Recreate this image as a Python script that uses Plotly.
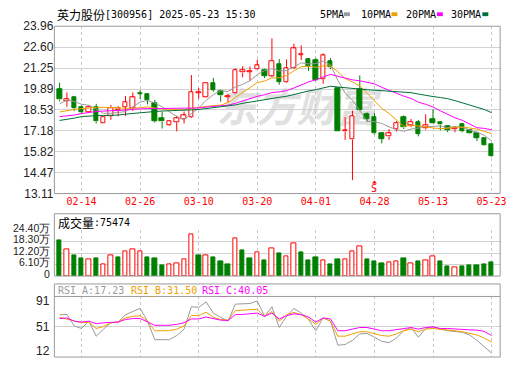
import plotly.graph_objects as go

# ---------------- data ----------------
dates = ["2025-02-11", "2025-02-12", "2025-02-13", "2025-02-14", "2025-02-17", "2025-02-18",
         "2025-02-19", "2025-02-20", "2025-02-21", "2025-02-24", "2025-02-25", "2025-02-26",
         "2025-02-27", "2025-02-28", "2025-03-03", "2025-03-04", "2025-03-05", "2025-03-06",
         "2025-03-07", "2025-03-10", "2025-03-11", "2025-03-12", "2025-03-13", "2025-03-14",
         "2025-03-17", "2025-03-18", "2025-03-19", "2025-03-20", "2025-03-21", "2025-03-24",
         "2025-03-25", "2025-03-26", "2025-03-27", "2025-03-28", "2025-03-31", "2025-04-01",
         "2025-04-02", "2025-04-03", "2025-04-07", "2025-04-08", "2025-04-09", "2025-04-10",
         "2025-04-11", "2025-04-28", "2025-04-29", "2025-04-30", "2025-05-06", "2025-05-07",
         "2025-05-08", "2025-05-09", "2025-05-12", "2025-05-13", "2025-05-14", "2025-05-15",
         "2025-05-16", "2025-05-19", "2025-05-20", "2025-05-21", "2025-05-22", "2025-05-23"]

opens = [19.86, 19.12, 19.36, 18.72, 18.41, 18.68, 17.67, 18.12, 18.50, 18.72,
         18.62, 19.60, 19.55, 18.99, 17.99, 17.54, 17.73, 17.96, 18.06, 19.62,
         19.34, 20.27, 19.76, 19.36, 19.59, 20.95, 21.00, 21.14, 21.12, 20.75,
         21.52, 20.34, 21.25, 22.10, 21.79, 21.77, 20.52, 21.72, 19.96, 17.13,
         16.61, 19.90, 18.25, 18.04, 17.00, 16.80, 17.29, 18.06, 17.54, 17.75,
         17.33, 17.94, 17.75, 17.48, 17.27, 17.62, 17.23, 17.02, 16.67, 16.32]
highs = [20.30, 19.67, 19.38, 18.83, 18.83, 18.93, 18.04, 18.85, 18.78, 19.43,
         19.67, 19.82, 19.61, 19.18, 18.41, 17.83, 18.16, 18.43, 20.79, 19.96,
         20.29, 20.61, 19.86, 19.55, 21.23, 21.37, 21.35, 21.79, 21.21, 23.17,
         21.83, 21.81, 22.82, 22.72, 21.89, 21.89, 22.20, 21.89, 19.96, 18.06,
         18.49, 20.77, 18.37, 18.33, 17.06, 17.29, 17.81, 18.18, 17.94, 17.89,
         18.25, 18.58, 17.77, 17.52, 17.48, 17.67, 17.27, 17.13, 16.71, 16.34]
lows = [19.09, 18.74, 18.47, 18.27, 18.33, 17.65, 17.67, 17.89, 18.12, 18.14,
        18.47, 19.24, 18.89, 17.71, 17.33, 17.50, 17.15, 17.65, 18.00, 19.26,
        19.32, 19.72, 19.07, 18.99, 19.55, 20.65, 20.40, 21.12, 20.59, 20.65,
        20.17, 20.30, 21.21, 21.77, 21.06, 20.40, 20.23, 21.17, 17.13, 16.59,
        13.98, 18.47, 17.75, 16.92, 16.36, 16.59, 17.13, 17.29, 17.42, 16.82,
        17.25, 17.67, 17.21, 17.09, 17.09, 17.09, 17.00, 16.51, 16.20, 15.51]
closes = [19.20, 19.22, 18.62, 18.37, 18.74, 17.77, 18.04, 18.66, 18.62, 19.03,
          19.34, 19.57, 19.18, 17.81, 17.77, 17.79, 17.98, 18.16, 19.70, 19.66,
          20.27, 19.82, 19.47, 19.42, 21.13, 21.09, 21.05, 21.41, 20.75, 21.72,
          20.34, 21.23, 22.51, 22.14, 21.35, 20.44, 22.06, 21.27, 17.13, 17.21,
          18.14, 18.54, 17.96, 17.00, 16.65, 17.00, 17.69, 17.38, 17.75, 16.96,
          17.52, 17.69, 17.58, 17.21, 17.33, 17.15, 17.02, 16.71, 16.22, 15.53]
# volume in 万 shares
volumes = [18.8, 14.5, 11.0, 9.4, 8.9, 9.4, 6.1, 10.8, 9.9, 13.4,
           14.5, 13.1, 9.9, 9.4, 5.8, 6.1, 6.6, 8.7, 22.0, 11.0,
           10.8, 9.9, 7.8, 6.3, 20.2, 13.6, 9.4, 12.4, 8.4, 15.0,
           12.0, 10.3, 17.6, 12.5, 8.4, 9.9, 8.2, 6.1, 8.9, 8.7,
           13.4, 16.0, 8.9, 7.8, 6.8, 7.1, 7.7, 9.4, 6.6, 7.8,
           8.2, 10.3, 7.8, 5.2, 4.5, 5.2, 5.8, 5.8, 6.3, 7.55]

# moving-average values before a full window exists
ma5_head = [18.92, 19.18, 19.08, 18.90]
ma10_head = [18.40, 18.50, 18.56, 18.62, 18.68, 18.70, 18.70, 18.70, 18.68]
ma20_head = [18.10, 18.15, 18.20, 18.30, 18.38, 18.43, 18.46, 18.47, 18.48, 18.52,
             18.58, 18.61, 18.62, 18.62, 18.62, 18.62, 18.62, 18.63, 18.64]
ma30_head = [17.85, 17.91, 18.00, 18.10, 18.14, 18.16, 18.17, 18.18, 18.20, 18.26,
             18.31, 18.36, 18.39, 18.43, 18.46, 18.48, 18.49, 18.50, 18.52, 18.56,
             18.62, 18.67, 18.72, 18.78, 18.86, 18.96, 19.04, 19.13, 19.20]

rsi_a = [66.9, 67.6, 52.5, 49.2, 58.8, 39.2, 48.4, 56.7, 57.6, 67.2,
         71.4, 75.5, 58.8, 34.6, 34.6, 34.6, 40.0, 48.4, 77.6, 76.8,
         83.9, 69.3, 63.8, 58.8, 81.0, 81.8, 81.8, 85.1, 65.1, 77.6,
         50.5, 65.1, 75.5, 69.3, 60.9, 46.3, 63.0, 58.8, 27.5, 28.3,
         33.7, 42.1, 42.9, 37.9, 32.5, 30.8, 36.7, 46.3, 50.5, 37.9,
         49.2, 51.7, 48.4, 46.3, 45.0, 44.2, 40.8, 33.7, 25.4, 17.23]
rsi_b = [63.8, 61.7, 58.8, 56.7, 57.6, 49.2, 51.7, 56.7, 57.6, 63.0,
         65.1, 65.9, 58.8, 46.3, 46.3, 46.3, 48.4, 52.5, 66.3, 65.9,
         70.5, 63.8, 60.9, 60.1, 72.6, 73.4, 73.4, 74.3, 65.1, 71.4,
         58.8, 67.2, 70.1, 67.2, 61.7, 54.6, 63.0, 58.8, 39.2, 39.2,
         42.1, 45.0, 45.0, 42.1, 40.0, 39.2, 42.1, 46.3, 48.4, 45.0,
         48.4, 49.2, 48.4, 47.5, 46.3, 45.0, 43.3, 40.8, 36.7, 31.50]
rsi_c = [62.2, 63.0, 58.8, 57.6, 58.8, 55.5, 56.7, 57.6, 57.6, 60.9,
         62.2, 62.2, 58.0, 53.4, 53.4, 53.4, 54.6, 56.7, 61.7, 61.7,
         64.2, 61.7, 60.1, 59.7, 67.2, 67.6, 68.0, 69.3, 65.1, 69.3,
         61.7, 65.9, 68.4, 67.2, 64.2, 57.6, 63.0, 61.7, 46.3, 46.3,
         48.4, 50.5, 50.5, 48.4, 46.3, 46.3, 47.5, 49.2, 50.5, 48.4,
         50.5, 51.3, 49.2, 49.2, 48.4, 48.4, 47.5, 47.1, 45.4, 40.05]

price_labels = ["13.11", "14.47", "15.82", "17.18", "18.53", "19.89", "21.25", "22.60", "23.96"]
vol_labels = ["0", "6.10万", "12.20万", "18.30万", "24.40万"]
rsi_labels = ["91", "51", "12"]
date_labels = ["02-14", "02-26", "03-10", "03-20", "04-01", "04-28", "05-13", "05-23"]

title_name = "英力股份"
title_rest = "[300956] 2025-05-23 15:30"
ma_names = ["5PMA", "10PMA", "20PMA", "30PMA"]
vol_name = "成交量"
vol_last = "75474"
rsi_names = ["RSI_A", "RSI_B", "RSI_C"]
marker_day = "04-28"
marker_text = "S"
watermark = "东方财富"

# ---------------- styles ----------------
W, H = 520, 365
RED = "#ff0000"
GREEN = "#008000"
C_MA = ["#9a9a9a", "#f0a000", "#ff00ff", "#00703a"]
GRID = "#d2d2d2"
VGRID = "#c8c8c8"
BORDER = "#9a9a9a"
MONO = "DejaVu Sans Mono"
CJK = "Noto Sans CJK SC"
SANS = "Liberation Sans"

L, R = 55, 506
MAIN_T, MAIN_B = 20, 194
VOL_BOX_T, VOL_T, VOL_B = 215, 232.3, 279.8
RSI_BOX_T, RSI_T, RSI_B = 288, 301, 364


def pxx(p):
    return p / W


def pxy(p):
    return 1 - p / H


n = len(dates)
idx = list(range(n))
x_first_px, step_px = 60.3, 7.407
x_range = [(L - x_first_px) / step_px, (R - x_first_px) / step_px]


def moving_avg(vals, w, head):
    out = list(head)
    for i in range(len(head), len(vals)):
        out.append(sum(vals[i - w + 1:i + 1]) / w)
    return out


ma5 = moving_avg(closes, 5, ma5_head)
ma10 = moving_avg(closes, 10, ma10_head)
ma20 = moving_avg(closes, 20, ma20_head)
ma30 = moving_avg(closes, 30, ma30_head)

fig = go.Figure()

# ---------- candles ----------
MIN_BODY = 0.04
for is_up in (True, False):
    xs, bases, hts = [], [], []
    wx, wy = [], []
    for i in idx:
        o, h, l, c = opens[i], highs[i], lows[i], closes[i]
        if (c >= o) != is_up:
            continue
        top, bot = max(o, c), min(o, c)
        hgt = max(top - bot, MIN_BODY)
        xs.append(i)
        bases.append(bot)
        hts.append(hgt)
        if h > bot + hgt:
            wx += [i, i, None]
            wy += [bot + hgt, h, None]
        if l < bot:
            wx += [i, i, None]
            wy += [l, bot, None]
    col = RED if is_up else GREEN
    fig.add_trace(go.Scatter(x=wx, y=wy, mode="lines", line=dict(color=col, width=1),
                             xaxis="x", yaxis="y", hoverinfo="skip"))
    fig.add_trace(go.Bar(x=xs, y=hts, base=bases, width=0.62,
                         marker=dict(color="white" if is_up else GREEN,
                                     line=dict(color=col, width=1)),
                         xaxis="x", yaxis="y", hoverinfo="skip"))

# ---------- moving averages ----------
for vals, col in zip([ma5, ma10, ma20, ma30], C_MA):
    fig.add_trace(go.Scatter(x=idx, y=vals, mode="lines", line=dict(color=col, width=1),
                             xaxis="x", yaxis="y", hoverinfo="skip"))

# ---------- volume ----------
vol_up = [closes[i] >= (closes[i - 1] if i > 0 else opens[i]) for i in idx]
for is_up in (True, False):
    xs = [i for i in idx if vol_up[i] == is_up]
    ys = [volumes[i] for i in xs]
    col = RED if is_up else GREEN
    fig.add_trace(go.Bar(x=xs, y=ys, width=0.6,
                         marker=dict(color="white" if is_up else GREEN,
                                     line=dict(color=col, width=1)),
                         xaxis="x2", yaxis="y2", hoverinfo="skip"))

# ---------- RSI ----------
for vals, col in zip([rsi_a, rsi_b, rsi_c], C_MA[:3]):
    fig.add_trace(go.Scatter(x=idx, y=vals, mode="lines", line=dict(color=col, width=1),
                             xaxis="x3", yaxis="y3", hoverinfo="skip"))

tickvals = [i for i, d in enumerate(dates) if d[5:] in date_labels]
ticktext = [dates[i][5:] for i in tickvals]
price_vals = [float(v) for v in price_labels]

xcommon = dict(range=x_range, domain=[pxx(L), pxx(R)], tickvals=tickvals,
               showgrid=True, gridcolor=VGRID, griddash="3px,3px", gridwidth=1,
               zeroline=False, showline=False, ticks="", fixedrange=True)

fig.update_layout(
    width=W, height=H, margin=dict(l=0, r=0, t=0, b=0),
    paper_bgcolor="white", plot_bgcolor="white", showlegend=False,
    barmode="overlay", bargap=0,
    xaxis=dict(**xcommon, anchor="y", ticktext=ticktext,
               tickfont=dict(family=MONO, size=10, color=RED)),
    xaxis2=dict(**xcommon, anchor="y2", matches="x", showticklabels=False),
    xaxis3=dict(**xcommon, anchor="y3", matches="x", showticklabels=False),
    yaxis=dict(domain=[pxy(MAIN_B), pxy(MAIN_T)], range=[price_vals[0], price_vals[-1]],
               tickvals=price_vals, ticktext=price_labels, showgrid=True, gridcolor=GRID,
               zeroline=False, showline=False, ticks="",
               tickfont=dict(family=SANS, size=12, color="#222222")),
    yaxis2=dict(domain=[pxy(VOL_B), pxy(VOL_T)], range=[0, 24.40],
                tickvals=[0, 6.10, 12.20, 18.30, 24.40], showticklabels=False,
                showgrid=True, gridcolor=GRID, zeroline=False, showline=False, ticks=""),
    yaxis3=dict(domain=[pxy(RSI_B), pxy(RSI_T)], range=[12, 91],
                tickvals=[51.5], showticklabels=False,
                showgrid=True, gridcolor=GRID, zeroline=False, showline=False, ticks=""),
)

shapes = []
# watermark
shapes.append(dict(type="rect", xref="paper", yref="paper",
                   x0=pxx(200), x1=pxx(400), y0=pxy(130), y1=pxy(86),
                   line=dict(width=0), fillcolor="rgba(0,0,0,0)", layer="between",
                   label=dict(text="<b><i>" + watermark + "</i></b>", textposition="middle center",
                              font=dict(family=CJK, size=40, color="#e0e0e0"))))
# panel borders
for t, b in [(MAIN_T, MAIN_B), (VOL_BOX_T, VOL_B), (RSI_BOX_T, RSI_B)]:
    shapes.append(dict(type="rect", xref="paper", yref="paper",
                       x0=pxx(L), x1=pxx(R), y0=pxy(b), y1=pxy(t),
                       line=dict(color=BORDER, width=1), fillcolor="rgba(0,0,0,0)"))
shapes.append(dict(type="line", xref="paper", yref="paper", x0=pxx(L), x1=pxx(R),
                   y0=pxy(RSI_T), y1=pxy(RSI_T), line=dict(color=BORDER, width=1)))
# legend swatches
for x0, col in zip([348, 396, 442, 488], C_MA):
    shapes.append(dict(type="rect", xref="paper", yref="paper",
                       x0=pxx(x0), x1=pxx(x0 + 6), y0=pxy(9.5), y1=pxy(5.5),
                       line=dict(width=0), fillcolor=col))
# small arrow head above the S marker
mi = [i for i, d in enumerate(dates) if d[5:] == marker_day][0]
mx = x_first_px + mi * step_px
shapes.append(dict(type="path", xref="paper", yref="paper",
                   path=f"M {pxx(mx - 2.5)} {pxy(183.5)} L {pxx(mx + 2.5)} {pxy(183.5)} "
                        f"L {pxx(mx)} {pxy(180.5)} Z",
                   line=dict(width=0), fillcolor=RED))
fig.update_layout(shapes=shapes)

ann = []


def text_at(x, y, s, fam, size, color, xanchor="left"):
    ann.append(dict(xref="paper", yref="paper", x=pxx(x), y=pxy(y), text=s,
                    showarrow=False, xanchor=xanchor, yanchor="middle",
                    font=dict(family=fam, size=size, color=color)))


text_at(56, 8, title_name, CJK, 12, "#000000")
text_at(104, 8, title_rest, MONO, 10, "#000000")
for x0, name in zip([321.5, 363, 409, 454], ma_names):
    text_at(x0, 8, name, MONO, 10, "#000000")
text_at(57, 224, vol_name, CJK, 12, "#000000")
text_at(93.5, 224, ":" + vol_last, MONO, 10, "#000000")
for x0, name, val, col in zip([57, 130, 202], rsi_names,
                              [rsi_a[-1], rsi_b[-1], rsi_c[-1]], C_MA[:3]):
    text_at(x0, 295, f"{name}:{val:.2f}", MONO, 10, col)
for v, s in zip([24.40, 18.30, 12.20, 6.10, 0], vol_labels[::-1]):
    ypx = VOL_B - (VOL_B - VOL_T) * v / 24.40 - 2.5
    text_at(52.5, ypx, s, SANS, 10.5, "#222222", xanchor="right")
for ypx, s in zip([306, 333, 357.5], rsi_labels):
    text_at(52.5, ypx, s, SANS, 12, "#222222", xanchor="right")

ann.append(dict(xref="x", yref="paper", x=mi, y=pxy(189), text=marker_text, showarrow=False,
                xanchor="center", yanchor="middle",
                font=dict(family=MONO, size=10, color=RED)))
fig.update_layout(annotations=ann)

fig.write_html("out.html")
